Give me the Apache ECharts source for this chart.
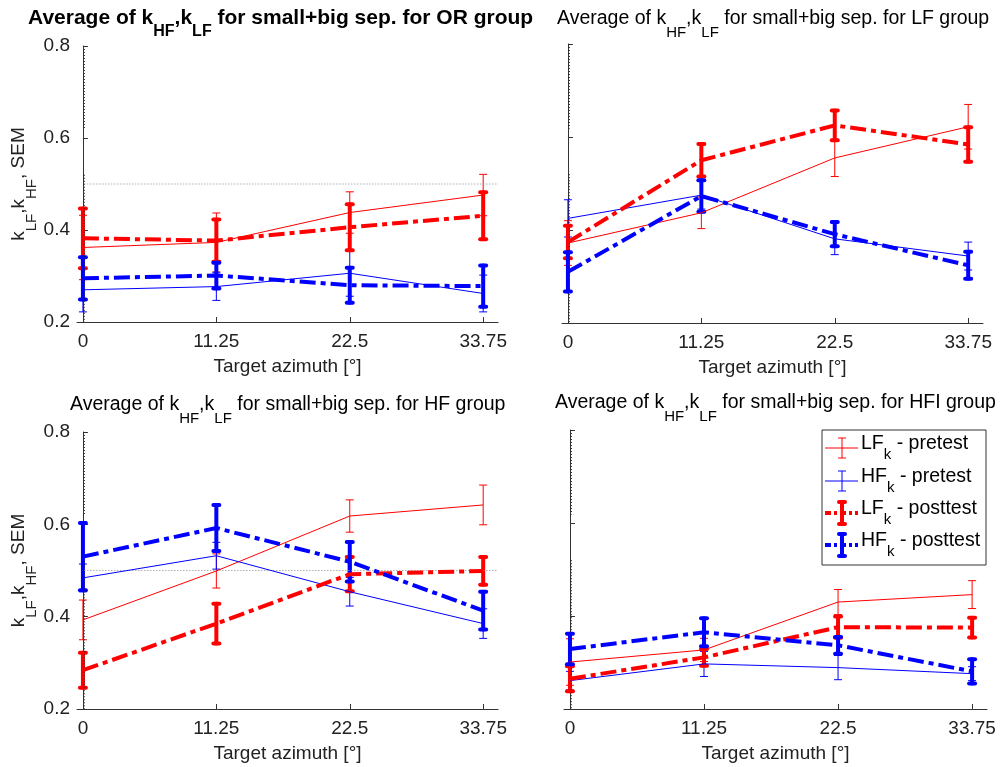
<!DOCTYPE html>
<html><head><meta charset="utf-8">
<script src="https://cdn.jsdelivr.net/npm/echarts@6/dist/echarts.min.js"></script>
<style>html,body{margin:0;padding:0;background:#fff}#c{width:1003px;height:767px}</style>
</head><body><div id="c"></div><script>
// ---- data ----
const xVals = [0, 11.25, 22.5, 33.75];
const xTickLabels = ['0', '11.25', '22.5', '33.75'];
const yTicks = [0.2, 0.4, 0.6, 0.8];
const groupNames = ['OR', 'LF', 'HF', 'HFI'];

const orLfPre = [0.362, 0.373, 0.438, 0.476];   const orLfPreSem = [0.070, 0.064, 0.045, 0.045];
const orHfPre = [0.270, 0.277, 0.306, 0.262];   const orHfPreSem = [0.048, 0.030, 0.050, 0.040];
const orLfPost = [0.382, 0.377, 0.406, 0.431];  const orLfPostSem = [0.065, 0.046, 0.050, 0.051];
const orHfPost = [0.295, 0.301, 0.280, 0.278];  const orHfPostSem = [0.046, 0.028, 0.038, 0.045];

const lfLfPre = [0.372, 0.437, 0.555, 0.622];   const lfLfPreSem = [0.048, 0.034, 0.040, 0.048];
const lfHfPre = [0.425, 0.475, 0.381, 0.344];   const lfHfPreSem = [0.040, 0.030, 0.034, 0.030];
const lfLfPost = [0.374, 0.550, 0.625, 0.584];  const lfLfPostSem = [0.035, 0.035, 0.032, 0.037];
const lfHfPost = [0.310, 0.473, 0.391, 0.324];  const lfHfPostSem = [0.042, 0.034, 0.026, 0.029];

const hfLfPre = [0.393, 0.499, 0.618, 0.642];   const hfLfPreSem = [0.043, 0.037, 0.035, 0.043];
const hfHfPre = [0.484, 0.532, 0.454, 0.385];   const hfHfPreSem = [0.030, 0.029, 0.031, 0.032];
const hfLfPost = [0.284, 0.385, 0.492, 0.499];  const hfLfPostSem = [0.038, 0.043, 0.037, 0.030];
const hfHfPost = [0.530, 0.592, 0.519, 0.413];  const hfHfPostSem = [0.073, 0.050, 0.043, 0.041];

const hfiLfPre = [0.301, 0.327, 0.430, 0.446];  const hfiLfPreSem = [0.050, 0.025, 0.027, 0.030];
const hfiHfPre = [0.261, 0.297, 0.289, 0.276];  const hfiHfPreSem = [0.020, 0.027, 0.026, 0.015];
const hfiLfPost = [0.265, 0.311, 0.376, 0.375]; const hfiLfPostSem = [0.027, 0.018, 0.023, 0.021];
const hfiHfPost = [0.329, 0.365, 0.337, 0.281]; const hfiHfPostSem = [0.033, 0.030, 0.018, 0.026];

// dotted reference lines
const refX = 0.12;
const refVertSegments = [[0.8, 0.618], [0.52, 0.2]];
const refHorizY = 0.5;
const refHorizRange = [0.12, 35];
const showHoriz = [true, false, true, false];

const legendLabels = [['LF', 'k', ' - pretest'], ['HF', 'k', ' - pretest'], ['LF', 'k', ' - posttest'], ['HF', 'k', ' - posttest']];

// ---- styling ----
const FONT = '"Liberation Sans", Arial, sans-serif';
const RED = '#ff0000', BLUE = '#0000ff';
const AXC = '#333333';
const THICK_DASH = [16, 5, 5, 5];
const AX_FS = 19;

const panels = [
  {lp: orLfPre, lps: orLfPreSem, hp: orHfPre, hps: orHfPreSem, lq: orLfPost, lqs: orLfPostSem, hq: orHfPost, hqs: orHfPostSem},
  {lp: lfLfPre, lps: lfLfPreSem, hp: lfHfPre, hps: lfHfPreSem, lq: lfLfPost, lqs: lfLfPostSem, hq: lfHfPost, hqs: lfHfPostSem},
  {lp: hfLfPre, lps: hfLfPreSem, hp: hfHfPre, hps: hfHfPreSem, lq: hfLfPost, lqs: hfLfPostSem, hq: hfHfPost, hqs: hfHfPostSem},
  {lp: hfiLfPre, lps: hfiLfPreSem, hp: hfiHfPre, hps: hfiHfPreSem, lq: hfiLfPost, lqs: hfiLfPostSem, hq: hfiHfPost, hqs: hfiHfPostSem}
];

const grids = [
  {left: 77, top: 46, width: 421, height: 276},
  {left: 562, top: 44, width: 421, height: 279},
  {left: 77, top: 432, width: 421, height: 277},
  {left: 564, top: 430, width: 423, height: 279}
];
const titlePos = [{left: 28, top: 8}, {left: 557, top: 9}, {left: 70, top: 395}, {left: 555, top: 393}];

function richSet(bold) {
  if (bold) {
    return {
      m: {fontFamily: FONT, fontSize: 21, fontWeight: 'bold', color: '#000', lineHeight: 24, verticalAlign: 'top'},
      s: {fontFamily: FONT, fontSize: 16, fontWeight: 'bold', color: '#000', lineHeight: 18, padding: [16, 0, 0, 0], verticalAlign: 'top'}
    };
  }
  return {
    m: {fontFamily: FONT, fontSize: 19.5, fontWeight: 'normal', color: '#000', lineHeight: 22, verticalAlign: 'top'},
    s: {fontFamily: FONT, fontSize: 15, fontWeight: 'normal', color: '#000', lineHeight: 16, padding: [16, 0, 0, 0], verticalAlign: 'top'}
  };
}

const xAxes = [], yAxes = [], series = [], titles = [];
grids.forEach((g, gi) => {
  const leftCol = gi % 2 === 0;
  xAxes.push({
    type: 'value', gridIndex: gi, min: -0.5, max: 35,
    axisLine: {show: true, lineStyle: {color: AXC, width: 1}},
    axisTick: {show: true, inside: true, length: 5, customValues: xVals, lineStyle: {color: AXC}},
    axisLabel: {show: true, customValues: xVals, margin: 10, fontSize: AX_FS, fontFamily: FONT, color: '#222',
      formatter: v => xTickLabels[xVals.indexOf(v)]},
    splitLine: {show: false},
    name: 'Target azimuth [°]', nameLocation: 'middle', nameGap: 35,
    nameTextStyle: {fontSize: AX_FS, fontFamily: FONT, color: '#222'}
  });
  yAxes.push({
    type: 'value', gridIndex: gi, min: 0.2, max: 0.8, interval: 0.2,
    axisLine: {show: true, lineStyle: {color: AXC, width: 1}},
    axisTick: {show: true, inside: true, length: 5, lineStyle: {color: AXC}},
    axisLabel: {show: leftCol, margin: 7, fontSize: AX_FS, fontFamily: FONT, color: '#222', formatter: v => v.toFixed(1)},
    splitLine: {show: false},
    name: leftCol ? '{m|k}{s|LF}{m|,k}{s|HF}{m|, SEM}' : '',
    nameLocation: 'middle', nameRotate: 90, nameGap: 36,
    nameTextStyle: {rich: {
      m: {fontFamily: FONT, fontSize: AX_FS, color: '#222', lineHeight: 21, verticalAlign: 'top'},
      s: {fontFamily: FONT, fontSize: 15, color: '#222', lineHeight: 16, padding: [15, 0, 0, 0], verticalAlign: 'top'}
    }}
  });
  titles.push({
    left: titlePos[gi].left, top: titlePos[gi].top, padding: 0,
    text: '{m|Average of k}{s|HF}{m|,k}{s|LF}{m| for small+big sep. for ' + groupNames[gi] + ' group}',
    textStyle: {fontWeight: gi === 0 ? 'bold' : 'normal', rich: richSet(gi === 0)}
  });

  // dotted reference lines
  refVertSegments.forEach(seg => {
    series.push({type: 'line', xAxisIndex: gi, yAxisIndex: gi, silent: true, animation: false, symbol: 'none',
      data: [[refX, seg[0]], [refX, seg[1]]], lineStyle: {color: '#222', width: 1, type: [1, 2]}});
  });
  if (showHoriz[gi]) {
    series.push({type: 'line', xAxisIndex: gi, yAxisIndex: gi, silent: true, animation: false, symbol: 'none',
      data: [[refHorizRange[0], refHorizY], [refHorizRange[1], refHorizY]], lineStyle: {color: '#888', width: 1, type: [1, 2]}});
  }

  const p = panels[gi];
  const specs = [
    [p.lp, p.lps, RED, 1, 'solid', 4],
    [p.hp, p.hps, BLUE, 1, 'solid', 4],
    [p.lq, p.lqs, RED, 4, THICK_DASH, 3],
    [p.hq, p.hqs, BLUE, 4, THICK_DASH, 3]
  ];
  specs.forEach(([mean, sem, color, lw, dash, cap]) => {
    series.push({type: 'line', xAxisIndex: gi, yAxisIndex: gi, silent: true, animation: false, symbol: 'none',
      data: xVals.map((x, i) => [x, mean[i]]), lineStyle: {color: color, width: lw, type: dash}});
    series.push({type: 'custom', xAxisIndex: gi, yAxisIndex: gi, silent: true, animation: false,
      data: xVals.map((x, i) => [x, mean[i], sem[i]]),
      encode: {x: 0, y: 1},
      renderItem: function (params, api) {
        const x = api.value(0), m = api.value(1), s = api.value(2);
        const t = api.coord([x, m + s]), b = api.coord([x, m - s]);
        const st = {stroke: color, lineWidth: lw, lineCap: lw > 1 ? 'round' : 'butt'};
        return {type: 'group', children: [
          {type: 'line', shape: {x1: t[0], y1: t[1], x2: b[0], y2: b[1]}, style: st},
          {type: 'line', shape: {x1: t[0] - cap, y1: t[1], x2: t[0] + cap, y2: t[1]}, style: st},
          {type: 'line', shape: {x1: b[0] - cap, y1: b[1], x2: b[0] + cap, y2: b[1]}, style: st}
        ]};
      }});
  });
});

// legend (drawn as graphics inside panel 4)
const legRows = [448, 481, 513, 545];
const legStyles = [[RED, 1, 4], [BLUE, 1, 4], [RED, 4, 3], [BLUE, 4, 3]];
const gfx = [{type: 'rect', shape: {x: 822, y: 430, width: 164, height: 135}, style: {fill: '#fff', stroke: '#333', lineWidth: 1}, z: 100}];
legRows.forEach((y, i) => {
  const [c, lw, cap] = legStyles[i];
  const half = lw > 1 ? 11 : 10;
  gfx.push({type: 'line', shape: {x1: 825, y1: y, x2: 858, y2: y}, style: {stroke: c, lineWidth: lw, lineDash: lw > 1 ? [6, 3, 3, 3] : null}, z: 101});
  const bs = {stroke: c, lineWidth: lw, lineCap: lw > 1 ? 'round' : 'butt'};
  gfx.push({type: 'line', shape: {x1: 842, y1: y - half, x2: 842, y2: y + half}, style: bs, z: 101});
  gfx.push({type: 'line', shape: {x1: 842 - cap, y1: y - half, x2: 842 + cap, y2: y - half}, style: bs, z: 101});
  gfx.push({type: 'line', shape: {x1: 842 - cap, y1: y + half, x2: 842 + cap, y2: y + half}, style: bs, z: 101});
  gfx.push({type: 'text', x: 861, y: y - 14, z: 101, style: {
    text: '{m|' + legendLabels[i][0] + '}{s|' + legendLabels[i][1] + '}{m|' + legendLabels[i][2] + '}',
    verticalAlign: 'top', align: 'left',
    rich: {
      m: {fontFamily: FONT, fontSize: 19.5, fill: '#000', lineHeight: 22, verticalAlign: 'top'},
      s: {fontFamily: FONT, fontSize: 15, fill: '#000', lineHeight: 16, padding: [13, 0, 0, 0], verticalAlign: 'top'}
    }}});
});

const chart = echarts.init(document.getElementById('c'), null, {renderer: 'canvas'});
chart.setOption({
  animation: false,
  backgroundColor: '#fff',
  title: titles,
  grid: grids,
  xAxis: xAxes,
  yAxis: yAxes,
  series: series,
  graphic: gfx
});
</script></body></html>
